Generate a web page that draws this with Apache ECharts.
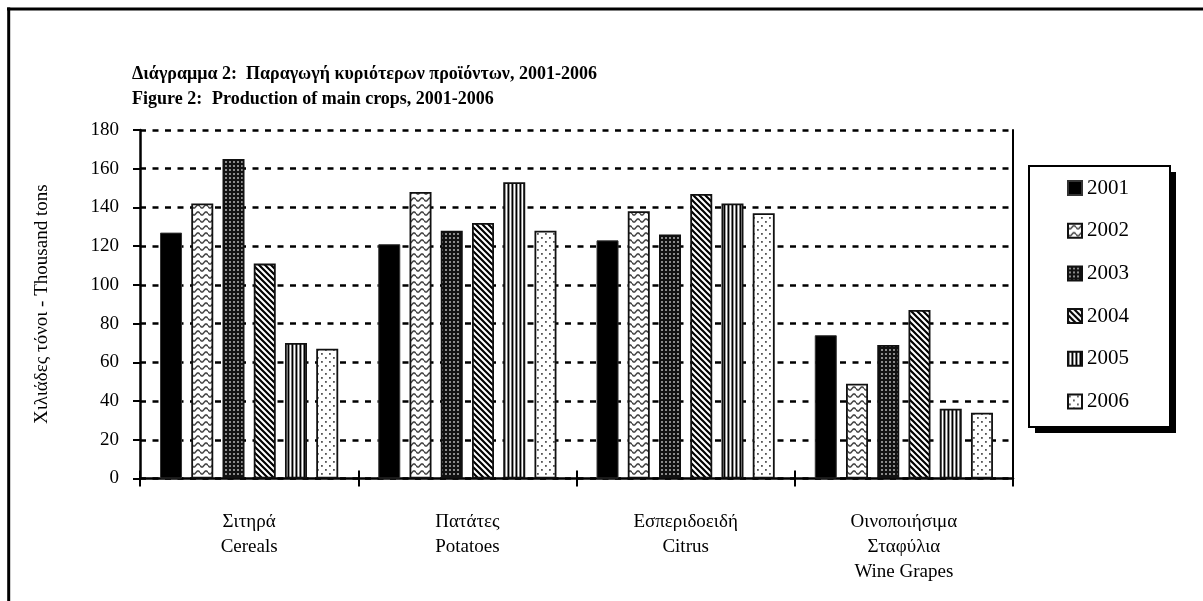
<!DOCTYPE html>
<html><head><meta charset="utf-8">
<script src="https://cdn.jsdelivr.net/npm/echarts@6/dist/echarts.min.js"></script>
<style>html,body{margin:0;padding:0;background:#fff}#c{width:1203px;height:601px}</style>
</head><body><div id="c"></div>
<script>
// ---- data ----
const categories = ['Σιτηρά\nCereals', 'Πατάτες\nPotatoes', 'Εσπεριδοειδή\nCitrus', 'Οινοποιήσιμα\nΣταφύλια\nWine Grapes'];
const years = ['2001', '2002', '2003', '2004', '2005', '2006'];
const v2001 = [127, 121, 123, 74];
const v2002 = [142, 148, 138, 49];
const v2003 = [165, 128, 126, 69];
const v2004 = [111, 132, 147, 87];
const v2005 = [70, 153, 142, 36];
const v2006 = [67, 128, 137, 34];
const yMin = 0, yMax = 180, yStep = 20;
const titleGr = 'Διάγραμμα 2:  Παραγωγή κυριότερων προϊόντων, 2001-2006';
const titleEnA = 'Figure 2:';
const titleEnB = 'Production of main crops, 2001-2006';
const yName = 'Χιλιάδες τόνοι - Thousand tons';

// ---- patterns ----
function tile(w, h, draw) {
  const c = document.createElement('canvas'); c.width = w; c.height = h;
  const g = c.getContext('2d'); draw(g, w, h); return c;
}
const pWave = tile(8, 7, (g, w, h) => {
  g.fillStyle = '#fff'; g.fillRect(0, 0, w, h);
  g.strokeStyle = '#444'; g.lineWidth = 1.5; g.beginPath();
  for (let x = 0; x <= w; x += 0.5) { const y = 3.5 + 1.6 * Math.sin(2 * Math.PI * x / w); if (x === 0) g.moveTo(x, y); else g.lineTo(x, y); }
  g.stroke();
});
const pChecker = tile(4, 4, (g, w, h) => {
  g.fillStyle = '#111'; g.fillRect(0, 0, w, h);
  g.fillStyle = '#8a8a8a'; g.fillRect(1, 1, 2, 2);
});
const pDiag = tile(6, 6, (g, w, h) => {
  g.fillStyle = '#fff'; g.fillRect(0, 0, w, h);
  g.strokeStyle = '#000'; g.lineWidth = 2.2; g.beginPath();
  for (const o of [-6, 0, 6]) { g.moveTo(o - 1, -1); g.lineTo(o + 7, 7); }
  g.stroke();
});
const pVert = tile(4, 2, (g, w, h) => {
  const cols = ['#000', '#999', '#fff', '#777'];
  cols.forEach((c, i) => { g.fillStyle = c; g.fillRect(i, 0, 1, h); });
});
const pDots = tile(8, 8, (g, w, h) => {
  g.fillStyle = '#fff'; g.fillRect(0, 0, w, h);
  g.fillStyle = '#555'; g.fillRect(1, 1, 1.8, 1.8); g.fillRect(5, 5, 1.8, 1.8);
});
const fills = ['#000',
  { image: pWave, repeat: 'repeat' },
  { image: pChecker, repeat: 'repeat' },
  { image: pDiag, repeat: 'repeat' },
  { image: pVert, repeat: 'repeat' },
  { image: pDots, repeat: 'repeat' }];
const values = [v2001, v2002, v2003, v2004, v2005, v2006];

const FONT = 'Liberation Serif';
const chart = echarts.init(document.getElementById('c'), null, { renderer: 'canvas' });
chart.setOption({
  backgroundColor: '#fff',
  animation: false,
  grid: { left: 140, right: 190, top: 130, bottom: 122.5, containLabel: false },
  legend: {
    orient: 'vertical', left: 1067, top: 177, padding: 0,
    itemWidth: 14, itemHeight: 14, itemGap: 20.7, icon: 'rect', z: 10,
    textStyle: { fontFamily: FONT, fontSize: 21, color: '#000', lineHeight: 22 },
    data: years
  },
  xAxis: [{
    type: 'category', data: categories, position: 'bottom',
    axisLine: { show: true, lineStyle: { color: '#000', width: 2.5 } },
    axisTick: { show: true, interval: 0, length: 8, lineStyle: { color: '#000', width: 2 } },
    axisLabel: { interval: 0, margin: 31, fontFamily: FONT, fontSize: 19, lineHeight: 25, color: '#000' },
    splitLine: { show: false }
  }, {
    type: 'category', data: categories, position: 'bottom',
    axisLine: { show: false },
    axisTick: { show: true, inside: true, interval: 0, length: 8, lineStyle: { color: '#000', width: 2 } },
    axisLabel: { show: false }, splitLine: { show: false }
  }],
  yAxis: [{
    type: 'value', min: yMin, max: yMax, interval: yStep, position: 'left',
    name: yName, nameLocation: 'middle', nameGap: 88,
    nameTextStyle: { fontFamily: FONT, fontSize: 19, color: '#000' },
    axisLine: { show: true, lineStyle: { color: '#000', width: 2.5 } },
    axisTick: { show: true, length: 7, lineStyle: { color: '#000', width: 2 } },
    axisLabel: { margin: 21, fontFamily: FONT, fontSize: 19, color: '#000' },
    splitLine: { show: true, lineStyle: { color: '#000', width: 2.5, type: [6, 6.5] } }
  }, {
    type: 'value', min: yMin, max: yMax, interval: yStep, position: 'right',
    axisLine: { show: true, lineStyle: { color: '#000', width: 2 } },
    axisTick: { show: false }, axisLabel: { show: false }, splitLine: { show: false }
  }],
  series: years.map((y, i) => ({
    name: y, type: 'bar', xAxisIndex: 0, yAxisIndex: 0,
    data: values[i], barWidth: 22, barGap: '42%',
    itemStyle: { color: fills[i], borderColor: i === 0 ? '#333' : '#111', borderWidth: i === 0 ? 1 : 1.8 }
  })),
  graphic: [
    { type: 'line', z: 0, shape: { x1: 7, y1: 9, x2: 1203, y2: 9 }, style: { stroke: '#000', lineWidth: 3 } },
    { type: 'line', z: 0, shape: { x1: 8.7, y1: 7.5, x2: 8.7, y2: 601 }, style: { stroke: '#000', lineWidth: 3 } },
    { type: 'rect', z: 0, shape: { x: 1035, y: 172, width: 141, height: 261 }, style: { fill: '#000' } },
    { type: 'rect', z: 1, shape: { x: 1029, y: 166, width: 141, height: 261 }, style: { fill: '#fff', stroke: '#000', lineWidth: 2 } },
    { type: 'text', z: 5, left: 132, top: 65, style: { text: titleGr, fontFamily: FONT, fontWeight: 'bold', fontSize: 18, fill: '#000' } },
    { type: 'text', z: 5, left: 132, top: 90, style: { text: titleEnA, fontFamily: FONT, fontWeight: 'bold', fontSize: 18, fill: '#000' } },
    { type: 'text', z: 5, left: 212, top: 90, style: { text: titleEnB, fontFamily: FONT, fontWeight: 'bold', fontSize: 18, fill: '#000' } }
  ]
});
</script>
</body></html>
